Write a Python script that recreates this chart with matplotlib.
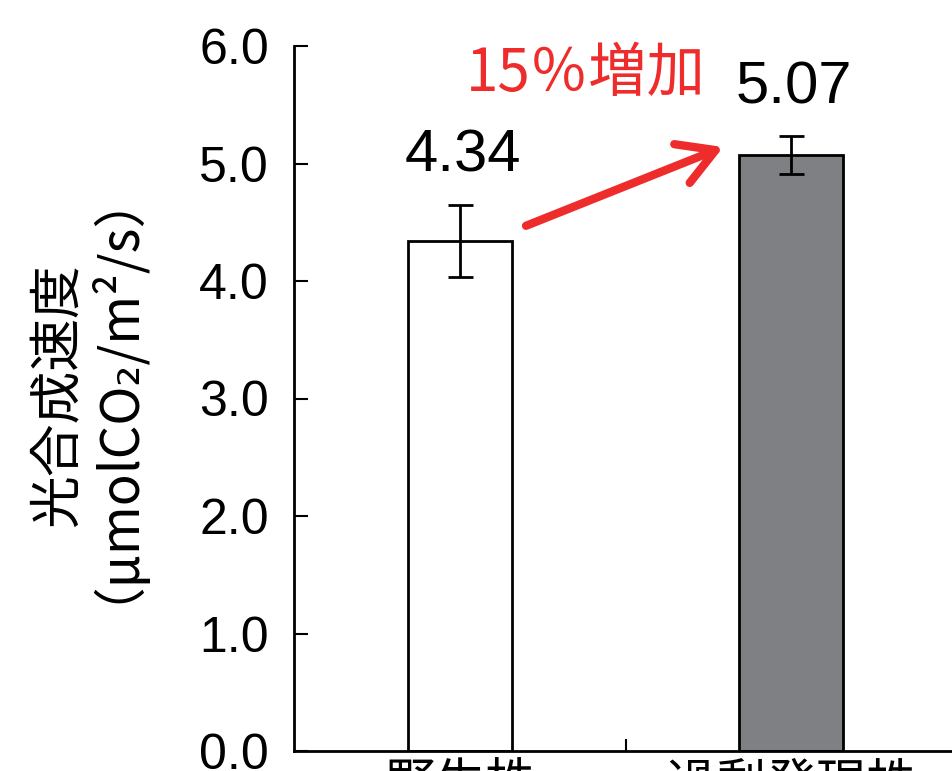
import matplotlib
matplotlib.use("Agg")
import matplotlib.pyplot as plt

categories = ["野生株", "過剰発現株"]
values = [4.34, 5.07]
errors = [0.31, 0.16]
value_labels = ["4.34", "5.07"]
bar_colors = ["#ffffff", "#7f8084"]
yticks = [0.0, 1.0, 2.0, 3.0, 4.0, 5.0, 6.0]
annotation_text = "15％増加"
ylabel_line1 = "光合成速度"
ylabel_line2 = "（μmolCO₂/m²/s）"

NUM = ["Liberation Sans", "DejaVu Sans"]
JP = ["Noto Sans CJK JP", "DejaVu Sans"]

W, H = 952, 771
fig = plt.figure(figsize=(W / 100, H / 100), dpi=100)
ax = fig.add_axes([294 / W, 20 / H, (957 - 294) / W, (751 - 46) / H])

x = list(range(len(categories)))
ax.bar(x, values, width=0.315, color=bar_colors, edgecolor="black", linewidth=2, zorder=2)
ax.errorbar(x, values, yerr=errors, fmt="none", ecolor="black", elinewidth=2,
            capsize=9, capthick=2, zorder=3)

for xi, v, e, lab in zip(x, values, errors, value_labels):
    ax.annotate(lab, xy=(xi, v + e), xytext=(2, 35), textcoords="offset points",
                ha="center", va="center", fontsize=43, family=NUM)

ax.set_xlim(-0.5, 1.5)
ax.set_ylim(0, 6.0)
ax.set_yticks(yticks)
ax.set_yticklabels([f"{t:.1f}" for t in yticks], family=NUM, fontsize=36)
ax.set_xticks([0.5, 1.5])
ax.set_xticklabels([])
ax.set_xticks(x, minor=True)
ax.set_xticklabels(categories, minor=True, family=JP, fontsize=36)
ax.tick_params(axis="x", which="minor", length=0, pad=6)
ax.tick_params(axis="x", which="major", direction="in", length=9, width=1.5)
ax.tick_params(axis="y", direction="in", length=10, width=1.5, pad=18)

for s in ["top", "right"]:
    ax.spines[s].set_visible(False)
for s in ["left", "bottom"]:
    ax.spines[s].set_linewidth(2)

fig.text(58 / W, 1 - 395 / H, ylabel_line1, rotation=90, ha="center", va="center",
         fontsize=38, family=JP)
fig.text(86 / W, 1 - 370 / H, ylabel_line2, rotation=90, ha="center", va="center",
         fontsize=38, family=JP)

ax.annotate("", xy=(0.795, 5.14), xytext=(0.2, 4.47),
            arrowprops=dict(arrowstyle="->,head_length=1.3,head_width=0.75",
                            mutation_scale=20, color="#ee2c2c", lw=6,
                            shrinkA=0, shrinkB=0))
ax.text(0.38, 5.76, annotation_text, ha="center", va="center", fontsize=42,
        color="#ee2c2c", family=JP)

fig.savefig("out.png", dpi=100)
